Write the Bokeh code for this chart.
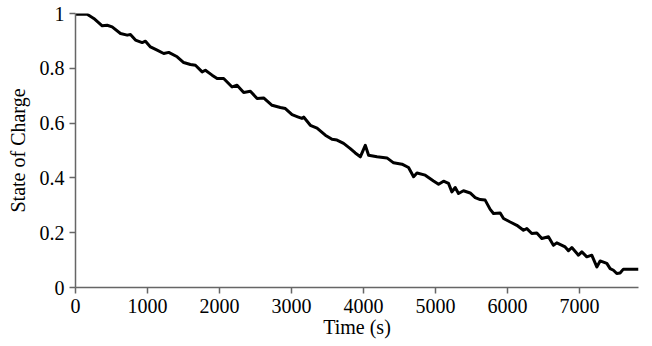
from bokeh.plotting import figure
from bokeh.models import Range1d, FixedTicker
from bokeh.embed import file_html
from bokeh.resources import INLINE

# Time (s) and state of charge
time_s = [0, 162, 254, 371, 440, 509, 625, 718, 763, 833, 926, 972, 1041, 1134, 1225,
          1295, 1412, 1503, 1596, 1666, 1759, 1804, 1897, 1967, 2058, 2175, 2244, 2336,
          2429, 2522, 2613, 2730, 2845, 2915, 3008, 3086, 3146, 3169, 3262, 3355, 3470,
          3563, 3632, 3724, 3817, 3886, 3956, 4025, 4071, 4188, 4326, 4418, 4535, 4626,
          4696, 4743, 4858, 4973, 5043, 5112, 5181, 5228, 5274, 5320, 5389, 5482, 5552,
          5621, 5690, 5760, 5806, 5899, 5945, 6038, 6130, 6222, 6269, 6338, 6408, 6477,
          6569, 6638, 6685, 6801, 6847, 6894, 6986, 7033, 7102, 7171, 7241, 7287, 7380,
          7426, 7472, 7518, 7564, 7610, 7820]
soc = [0.997, 0.997, 0.982, 0.955, 0.957, 0.951, 0.927, 0.921, 0.923, 0.903, 0.894, 0.899,
       0.878, 0.866, 0.854, 0.858, 0.842, 0.821, 0.814, 0.811, 0.787, 0.793, 0.775, 0.763,
       0.763, 0.732, 0.738, 0.712, 0.716, 0.690, 0.692, 0.665, 0.657, 0.653, 0.631, 0.623,
       0.617, 0.622, 0.592, 0.582, 0.556, 0.541, 0.538, 0.526, 0.507, 0.491, 0.477, 0.519,
       0.483, 0.477, 0.473, 0.455, 0.450, 0.438, 0.404, 0.418, 0.410, 0.389, 0.377, 0.388,
       0.380, 0.349, 0.365, 0.343, 0.353, 0.345, 0.328, 0.321, 0.319, 0.285, 0.270, 0.272,
       0.252, 0.239, 0.227, 0.209, 0.215, 0.197, 0.199, 0.179, 0.185, 0.154, 0.163, 0.148,
       0.134, 0.146, 0.118, 0.130, 0.112, 0.118, 0.075, 0.097, 0.088, 0.069, 0.063, 0.051,
       0.053, 0.067, 0.067]

x_ticks = [0, 1000, 2000, 3000, 4000, 5000, 6000, 7000]
y_ticks = [0, 0.2, 0.4, 0.6, 0.8, 1]
y_tick_labels = ["0", "0.2", "0.4", "0.6", "0.8", "1"]
x_label = "Time (s)"
y_label = "State of Charge"

FONT = "Liberation Serif"

p = figure(width=650, height=344, output_backend="svg", toolbar_location=None,
           x_range=Range1d(0, 7820), y_range=Range1d(0, 1),
           min_border_left=75, min_border_right=12, min_border_top=13, min_border_bottom=57)
p.outline_line_color = None
p.xgrid.grid_line_color = None
p.ygrid.grid_line_color = None
p.background_fill_color = "white"
p.border_fill_color = "white"

p.line(time_s, soc, line_color="black", line_width=3, line_join="round")

p.xaxis.ticker = FixedTicker(ticks=x_ticks)
p.yaxis.ticker = FixedTicker(ticks=y_ticks)
p.yaxis.major_label_overrides = {t: l for t, l in zip(y_ticks, y_tick_labels)}
p.xaxis.axis_label = x_label
p.yaxis.axis_label = y_label

for ax in (p.xaxis, p.yaxis):
    ax.axis_line_color = "#666666"
    ax.axis_line_width = 1.5
    ax.major_tick_line_color = "#666666"
    ax.major_tick_line_width = 1.5
    ax.major_tick_out = 6
    ax.major_tick_in = 0
    ax.minor_tick_line_color = None
    ax.major_label_text_font = FONT
    ax.major_label_text_font_size = "20px"
    ax.major_label_text_color = "black"
    ax.axis_label_text_font = FONT
    ax.axis_label_text_font_size = "20px"
    ax.axis_label_text_font_style = "normal"
    ax.axis_label_text_color = "black"

p.xaxis.major_label_standoff = 5
p.xaxis.axis_label_standoff = 0
p.yaxis.major_label_standoff = 5
p.yaxis.axis_label_standoff = 8

open("out.html", "w").write(file_html(p, INLINE))
